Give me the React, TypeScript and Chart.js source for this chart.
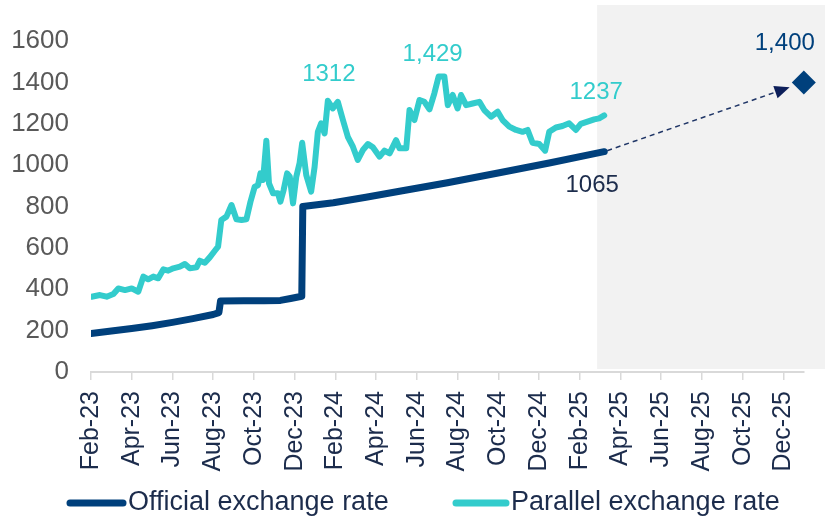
import React, { useEffect, useRef } from 'react';
import { Chart, registerables } from 'chart.js';

Chart.register(...registerables);

const FONT = '"Liberation Sans", Arial, Helvetica, sans-serif';
const NAVY = '#00407c';
const TURQ = '#33cccc';
const TEXT_NAVY = '#1c2c4c';

// x values are month offsets from Feb-2023 (0 = Feb-23)
const tickMonths = [0, 2, 4, 6, 8, 10, 12, 14, 16, 18, 20, 22, 24, 26, 28, 30, 32, 34];
const tickLabels = [
  'Feb-23', 'Apr-23', 'Jun-23', 'Aug-23', 'Oct-23', 'Dec-23',
  'Feb-24', 'Apr-24', 'Jun-24', 'Aug-24', 'Oct-24', 'Dec-24',
  'Feb-25', 'Apr-25', 'Jun-25', 'Aug-25', 'Oct-25', 'Dec-25',
];
const axisMax = 35;
const forecastStart = 24.85;

const officialMonths = [0, 1, 2, 3, 4, 5, 6, 6.28, 6.36, 7.5, 8.5, 9.3, 9.8, 10.35, 10.4, 11.9, 13.5, 15.15, 17.5, 20.05, 22.5, 25.2];
const officialValues = [186, 198, 210, 224, 240, 258, 278, 287, 343, 345, 345, 346, 355, 366, 800, 818, 845, 874, 915, 963, 1010, 1065];

const parallelMonths = [
  0.03, 0.44, 0.77, 1.1, 1.34, 1.67, 2.0, 2.32, 2.57, 2.81, 3.06, 3.3, 3.55, 3.79, 4.04, 4.36, 4.61, 4.85, 5.18, 5.34,
  5.59, 5.83, 6.08, 6.24, 6.4, 6.65, 6.9, 7.14, 7.39, 7.63, 7.83, 8.04, 8.2, 8.32, 8.45, 8.61, 8.74, 8.94, 9.18, 9.3,
  9.46, 9.63, 9.76, 9.92, 10.08, 10.24, 10.37, 10.57, 10.81, 10.98, 11.14, 11.3, 11.47, 11.63, 11.87, 12.12, 12.37, 12.61, 12.86, 13.1,
  13.35, 13.6, 13.84, 14.17, 14.41, 14.66, 14.98, 15.15, 15.39, 15.48, 15.64, 15.88, 16.13, 16.37, 16.62, 16.86, 17.07, 17.35, 17.52, 17.76,
  18.0, 18.17, 18.42, 18.74, 19.07, 19.31, 19.64, 19.97, 20.21, 20.54, 20.87, 21.19, 21.44, 21.68, 22.01, 22.3, 22.5, 22.83, 23.15, 23.48,
  23.81, 24.05, 24.38, 24.71, 24.95, 25.2,
];
const parallelValues = [
  364, 372, 364, 377, 404, 396, 404, 388, 461, 448, 461, 453, 496, 490, 501, 509, 522, 501, 506, 538,
  528, 554, 586, 606, 735, 751, 807, 738, 735, 738, 823, 896, 903, 960, 928, 1118, 912, 864, 864, 823,
  880, 960, 944, 815, 944, 1009, 1108, 952, 872, 992, 1161, 1202, 1153, 1311, 1274, 1306, 1218, 1137, 1089, 1025,
  1073, 1102, 1086, 1041, 1070, 1057, 1121, 1081, 1081, 1081, 1266, 1218, 1315, 1306, 1270, 1347, 1429, 1429, 1290, 1339,
  1274, 1339, 1290, 1298, 1306, 1266, 1234, 1258, 1218, 1186, 1170, 1161, 1170, 1108, 1102, 1070, 1161, 1182, 1189, 1202,
  1170, 1199, 1210, 1221, 1226, 1240,
];

const forecastMonths = [35];
const forecastValues = [1400];

const labelTexts = ['1312', '1,429', '1237', '1065', '1,400'];
const labelMonths = [11.63, 17.07, 25.2, 25.2, 35];
const labelValues = [1311, 1435, 1240, 1065, 1400];
const labelColors = [TURQ, TURQ, TURQ, TEXT_NAVY, NAVY];
const labelDx = [1, -6, -8, -12, -19];
const labelDy = [-26, -21, -23, 34, -39];

const legendTexts = ['Official exchange rate', 'Parallel exchange rate'];
const legendColors = [NAVY, TURQ];

const overlay = {
  id: 'overlay',
  beforeDraw(chart: any) {
    const { ctx, scales } = chart;
    const x = scales.x, y = scales.y;
    const x0 = x.getPixelForValue(forecastStart);
    const yb = y.getPixelForValue(0) - 3;
    ctx.save();
    ctx.fillStyle = '#f2f2f2';
    ctx.fillRect(x0, 5, chart.width - x0, yb - 5);
    ctx.restore();
  },
  beforeDatasetsDraw(chart: any) {
    const { ctx } = chart;
    const off = chart.getDatasetMeta(1).data;
    const last = off[off.length - 1];
    const dia = chart.getDatasetMeta(2).data[0];
    if (!last || !dia) return;
    const sx = last.x + 3, sy = last.y - 1;
    const dx = dia.x - sx, dy = dia.y - sy;
    const len = Math.hypot(dx, dy);
    const ux = dx / len, uy = dy / len;
    const tx = dia.x - ux * 15, ty = dia.y - uy * 15;
    const hl = 15, hw = 6.5;
    const bx = tx - ux * hl, by = ty - uy * hl;
    ctx.save();
    ctx.strokeStyle = '#1f3566';
    ctx.lineWidth = 1.5;
    ctx.setLineDash([5, 4]);
    ctx.beginPath();
    ctx.moveTo(sx, sy);
    ctx.lineTo(bx, by);
    ctx.stroke();
    ctx.setLineDash([]);
    ctx.fillStyle = '#0d1f5a';
    ctx.beginPath();
    ctx.moveTo(tx, ty);
    ctx.lineTo(bx - uy * hw, by + ux * hw);
    ctx.lineTo(bx + uy * hw, by - ux * hw);
    ctx.closePath();
    ctx.fill();
    ctx.restore();
  },
  afterDraw(chart: any) {
    const { ctx, scales } = chart;
    const x = scales.x, y = scales.y;
    ctx.save();
    ctx.font = `24px ${FONT}`;
    ctx.textAlign = 'center';
    ctx.textBaseline = 'middle';
    labelTexts.forEach((t, i) => {
      ctx.fillStyle = labelColors[i];
      ctx.fillText(t, x.getPixelForValue(labelMonths[i]) + labelDx[i], y.getPixelForValue(labelValues[i]) + labelDy[i]);
    });
    // legend
    const ly = 503;
    const items = [
      { x0: 70, x1: 123, tx: 128 },
      { x0: 456, x1: 506, tx: 511 },
    ];
    ctx.font = `27px ${FONT}`;
    ctx.textAlign = 'left';
    items.forEach((it, i) => {
      ctx.strokeStyle = legendColors[i];
      ctx.lineWidth = 7;
      ctx.lineCap = 'round';
      ctx.beginPath();
      ctx.moveTo(it.x0, ly);
      ctx.lineTo(it.x1, ly);
      ctx.stroke();
      ctx.fillStyle = TEXT_NAVY;
      ctx.fillText(legendTexts[i], it.tx, ly);
    });
    ctx.restore();
  },
};

export default function App() {
  const ref = useRef<HTMLCanvasElement>(null);
  useEffect(() => {
    document.body.style.margin = '0';
    const canvas = ref.current!;
    const chart = new Chart(canvas, {
      type: 'line',
      data: {
        datasets: [
          {
            label: 'Parallel exchange rate',
            data: parallelMonths.map((m, i) => ({ x: m, y: parallelValues[i] })),
            borderColor: TURQ,
            backgroundColor: TURQ,
            borderWidth: 6,
            pointRadius: 0,
            tension: 0,
            borderCapStyle: 'round',
            borderJoinStyle: 'round',
          },
          {
            label: 'Official exchange rate',
            data: officialMonths.map((m, i) => ({ x: m, y: officialValues[i] })),
            borderColor: NAVY,
            backgroundColor: NAVY,
            borderWidth: 7,
            pointRadius: 0,
            tension: 0,
            borderCapStyle: 'round',
            borderJoinStyle: 'round',
          },
          {
            label: 'Forecast',
            data: forecastMonths.map((m, i) => ({ x: m, y: forecastValues[i] })),
            showLine: false,
            clip: false,
            pointStyle: 'rectRot',
            pointRadius: 12,
            pointHoverRadius: 12,
            backgroundColor: NAVY,
            borderColor: NAVY,
            borderWidth: 0,
          },
        ],
      } as any,
      options: {
        responsive: false,
        animation: false,
        devicePixelRatio: 1,
        layout: { padding: { top: 41, right: 20, left: 0, bottom: 0 } },
        plugins: {
          legend: { display: false },
          tooltip: { enabled: false },
        },
        scales: {
          x: {
            type: 'linear',
            min: 0,
            max: axisMax,
            afterBuildTicks: (scale: any) => {
              scale.ticks = tickMonths.map((v) => ({ value: v }));
            },
            afterFit: (scale: any) => {
              scale.height = 146;
            },
            grid: { drawOnChartArea: false, drawTicks: true, tickLength: 8, color: '#d9d9d9', lineWidth: 1.5 },
            border: { display: true, color: '#d9d9d9', width: 2 },
            ticks: {
              autoSkip: false,
              minRotation: 90,
              maxRotation: 90,
              padding: 11,
              color: TEXT_NAVY,
              font: { family: FONT, size: 25 },
              callback: (_v: any, i: number) => tickLabels[i],
            },
          },
          y: {
            min: 0,
            max: 1600,
            afterFit: (scale: any) => {
              scale.width = 91;
            },
            grid: { display: false },
            border: { display: false },
            ticks: {
              stepSize: 200,
              padding: 14,
              color: '#595959',
              font: { family: FONT, size: 26 },
              callback: (v: any) => String(v),
            },
          },
        },
      } as any,
      plugins: [overlay],
    });
    return () => chart.destroy();
  }, []);
  return (
    <div style={{ position: 'relative', width: 825, height: 518 }}>
      <canvas ref={ref} width={825} height={518} style={{ display: 'block', width: 825, height: 518 }} />
    </div>
  );
}
